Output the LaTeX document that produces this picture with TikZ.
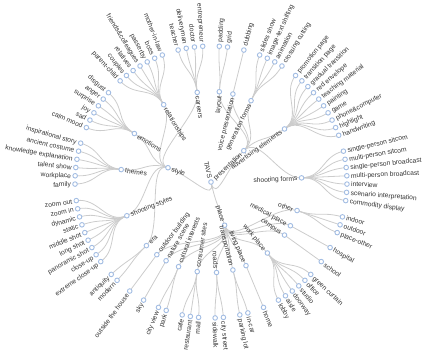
\documentclass[tikz,border=0pt]{standalone}
\usepackage{fontspec}
\setmainfont{Liberation Sans}
\definecolor{dotc}{HTML}{A3BDE3}
\definecolor{linkc}{HTML}{CCCCCC}
\definecolor{txtc}{HTML}{333333}
\pgfdeclarelayer{bg}
\pgfsetlayers{bg,main}
\tikzset{
  dot/.style={circle,draw=dotc,fill=white,line width=0.9pt,inner sep=0pt,minimum size=4.6pt},
  lbl/.style={font=\fontsize{6.7}{8}\selectfont,text=txtc,inner sep=0pt},
  link/.style={draw=linkc,line width=0.8pt}
}
\newcommand\tn[5]{%
  \pgfmathsetmacro\tvth{(#2+1)*3.4951456}%
  \pgfmathsetmacro\tvph{90-\tvth}%
  \pgfmathsetmacro\tvr{#3*45.33}%
  \pgfmathsetmacro\tvro{\tvr+4}%
  \pgfmathsetmacro\tvri{\tvr-4}%
  \pgfmathsetmacro\tvphf{\tvph+180}%
  \expandafter\xdef\csname tvph@#1\endcsname{\tvph}%
  \expandafter\xdef\csname tvr@#1\endcsname{\tvr}%
  \node[dot] (#1) at (\tvph:\tvr pt) {};%
  \ifdim\tvth pt<180pt
    \ifnum#4=1 \node[lbl,anchor=mid west,rotate=\tvph] (#1-t) at (\tvph:\tvro pt) {#5};%
    \else \node[lbl,anchor=mid east,rotate=\tvph] (#1-t) at (\tvph:\tvri pt) {#5};\fi
  \else
    \ifnum#4=1 \node[lbl,anchor=mid east,rotate=\tvphf] (#1-t) at (\tvph:\tvro pt) {#5};%
    \else \node[lbl,anchor=mid west,rotate=\tvphf] (#1-t) at (\tvph:\tvri pt) {#5};\fi
  \fi}
\newcommand\lk[2]{%
  \edef\tvpa{\csname tvph@#1\endcsname}%
  \edef\tvpb{\csname tvph@#2\endcsname}%
  \pgfmathsetmacro\tvm{(\csname tvr@#1\endcsname+\csname tvr@#2\endcsname)/2}%
  \draw[link] (#1.center) .. controls (\tvpa:\tvm pt) and (\tvpb:\tvm pt) .. (#2.center);}
\newcommand\lks[2]{\foreach \tvc in {#2}{\lk{#1}{\tvc}}}
\begin{document}
\begin{tikzpicture}
\useasboundingbox (-211pt,-175pt) rectangle (217pt,182pt);
% root and level 1
\tn{root}{46.875}{0}{0}{TAVS}
\tn{pres}{12.25}{1}{0}{presentation}
\tn{place}{45.5}{1}{0}{place}
\tn{style}{81.5}{1}{0}{style}
% presentation level 2
\tn{layout}{0.5}{2}{0}{layout}
\tn{voice}{3}{2}{0}{voice presentation}
\tn{genf}{6.5}{2}{0}{generation forms}
\tn{adv}{14.5}{2}{0}{advertising elements}
\tn{sform}{24}{2}{0}{shooting forms}
% presentation leaves
\tn{padding}{0}{3}{1}{padding}
\tn{grid}{1}{3}{1}{grid}
\tn{dubbing}{3}{3}{1}{dubbing}
\tn{slides}{5}{3}{1}{slides show}
\tn{imgtext}{6}{3}{1}{image-text shifting}
\tn{anim}{7}{3}{1}{animation}
\tn{crosscut}{8}{3}{1}{crossing cutting}
\tn{promo}{10}{3}{1}{promotion page}
\tn{transpage}{11}{3}{1}{transition page}
\tn{gradual}{12}{3}{1}{gradual transition}
\tn{redenv}{13}{3}{1}{red envelope}
\tn{teach}{14}{3}{1}{teaching material}
\tn{paint}{15}{3}{1}{painting}
\tn{game}{16}{3}{1}{game}
\tn{phone}{17}{3}{1}{phone\&computer}
\tn{highlight}{18}{3}{1}{highlight}
\tn{handwr}{19}{3}{1}{handwriting}
\tn{sps}{21}{3}{1}{single-person sitcom}
\tn{mps}{22}{3}{1}{multi-person sitcom}
\tn{spb}{23}{3}{1}{single-person broadcast}
\tn{mpb}{24}{3}{1}{multi-person broadcast}
\tn{interview}{25}{3}{1}{interview}
\tn{scenario}{26}{3}{1}{scenario interpretation}
\tn{commodity}{27}{3}{1}{commodity display}
% place level 2
\tn{other}{30}{2}{0}{other}
\tn{medical}{33}{2}{0}{medical place}
\tn{campus}{35}{2}{0}{campus}
\tn{workp}{39.5}{2}{0}{work place}
\tn{living}{44}{2}{0}{living place}
\tn{transp}{46.5}{2}{0}{transportation}
\tn{roads}{49.5}{2}{0}{roads}
\tn{consumer}{53}{2}{0}{consumer sites}
\tn{cultural}{56.5}{2}{0}{cultural interests}
\tn{nature}{59}{2}{0}{nature scene}
\tn{outbuild}{61}{2}{0}{outdoor building}
% place leaves
\tn{indoor}{29}{3}{1}{indoor}
\tn{outdoor}{30}{3}{1}{outdoor}
\tn{placeother}{31}{3}{1}{place-other}
\tn{hospital}{33}{3}{1}{hospital}
\tn{school}{35}{3}{1}{school}
\tn{green}{37}{3}{1}{green curtain}
\tn{office}{38}{3}{1}{office}
\tn{studio}{39}{3}{1}{studio}
\tn{doorway}{40}{3}{1}{doorway}
\tn{aisle}{41}{3}{1}{aisle}
\tn{lobby}{42}{3}{1}{lobby}
\tn{home}{44}{3}{1}{home}
\tn{incar}{46}{3}{1}{in-car}
\tn{parking}{47}{3}{1}{parking lot}
\tn{citystreet}{49}{3}{1}{city street}
\tn{sidewalk}{50}{3}{1}{sidewalk}
\tn{mall}{52}{3}{1}{mall}
\tn{restaurant}{53}{3}{1}{restaurant}
\tn{cafe}{54}{3}{1}{cafe}
\tn{park}{56}{3}{1}{park}
\tn{cityview}{57}{3}{1}{city view}
\tn{sky}{59}{3}{1}{sky}
\tn{outhouse}{61}{3}{1}{outside the house}
% style level 2
\tn{era}{63.5}{2}{0}{era}
\tn{sstyles}{70}{2}{0}{shooting styles}
\tn{themes}{78.5}{2}{0}{themes}
\tn{emotions}{85.5}{2}{0}{emotions}
\tn{relat}{93}{2}{0}{relationships}
\tn{careers}{99.5}{2}{0}{careers}
% style leaves
\tn{modern}{63}{3}{1}{modern}
\tn{antiquity}{64}{3}{1}{antiquity}
\tn{ecu}{66}{3}{1}{extreme close-up}
\tn{closeup}{67}{3}{1}{close-up}
\tn{pano}{68}{3}{1}{panoramic shot}
\tn{longshot}{69}{3}{1}{long shot}
\tn{midshot}{70}{3}{1}{middle shot}
\tn{static}{71}{3}{1}{static}
\tn{dynamic}{72}{3}{1}{dynamic}
\tn{zoomin}{73}{3}{1}{zoom in}
\tn{zoomout}{74}{3}{1}{zoom out}
\tn{family}{76}{3}{1}{family}
\tn{workplace}{77}{3}{1}{workplace}
\tn{talent}{78}{3}{1}{talent show}
\tn{knowledge}{79}{3}{1}{knowledge explanation}
\tn{ancient}{80}{3}{1}{ancient costume}
\tn{inspire}{81}{3}{1}{inspirational story}
\tn{calm}{83}{3}{1}{calm mood}
\tn{sad}{84}{3}{1}{sad}
\tn{joy}{85}{3}{1}{joy}
\tn{surprise}{86}{3}{1}{surprise}
\tn{anger}{87}{3}{1}{anger}
\tn{disgust}{88}{3}{1}{disgust}
\tn{parent}{90}{3}{1}{parent-child}
\tn{couples}{91}{3}{1}{couples}
\tn{relatives}{92}{3}{1}{relatives}
\tn{friends}{93}{3}{1}{friends\&colleagues}
\tn{passerby}{94}{3}{1}{passerby}
\tn{boss}{95}{3}{1}{boss}
\tn{mil}{96}{3}{1}{mother-in-law}
\tn{teacher}{98}{3}{1}{teacher}
\tn{delivery}{99}{3}{1}{deliveryman}
\tn{doctor}{100}{3}{1}{doctor}
\tn{entre}{101}{3}{1}{entrepreneur}
% links
\begin{pgfonlayer}{bg}
\lks{root}{pres,place,style}
\lks{pres}{layout,voice,genf,adv,sform}
\lks{layout}{padding,grid}
\lks{voice}{dubbing}
\lks{genf}{slides,imgtext,anim,crosscut}
\lks{adv}{promo,transpage,gradual,redenv,teach,paint,game,phone,highlight,handwr}
\lks{sform}{sps,mps,spb,mpb,interview,scenario,commodity}
\lks{place}{other,medical,campus,workp,living,transp,roads,consumer,cultural,nature,outbuild}
\lks{other}{indoor,outdoor,placeother}
\lks{medical}{hospital}
\lks{campus}{school}
\lks{workp}{green,office,studio,doorway,aisle,lobby}
\lks{living}{home}
\lks{transp}{incar,parking}
\lks{roads}{citystreet,sidewalk}
\lks{consumer}{mall,restaurant,cafe}
\lks{cultural}{park,cityview}
\lks{nature}{sky}
\lks{outbuild}{outhouse}
\lks{style}{era,sstyles,themes,emotions,relat,careers}
\lks{era}{modern,antiquity}
\lks{sstyles}{ecu,closeup,pano,longshot,midshot,static,dynamic,zoomin,zoomout}
\lks{themes}{family,workplace,talent,knowledge,ancient,inspire}
\lks{emotions}{calm,sad,joy,surprise,anger,disgust}
\lks{relat}{parent,couples,relatives,friends,passerby,boss,mil}
\lks{careers}{teacher,delivery,doctor,entre}
\end{pgfonlayer}
\end{tikzpicture}
\end{document}
